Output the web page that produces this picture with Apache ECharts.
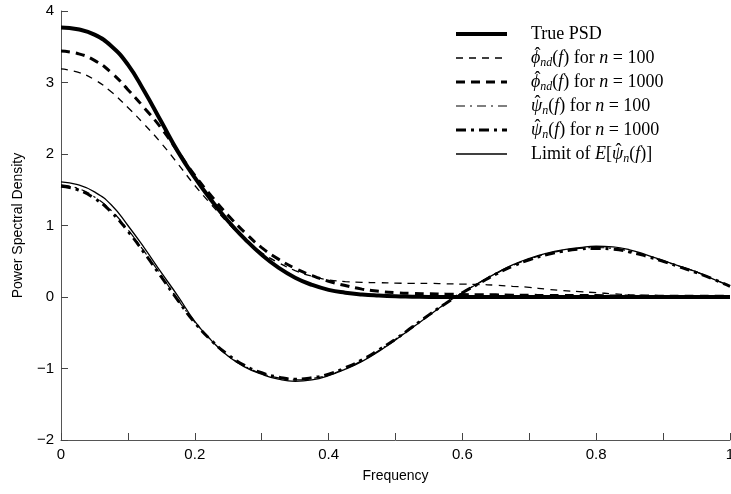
<!DOCTYPE html>
<html><head><meta charset="utf-8">
<script src="https://cdn.jsdelivr.net/npm/echarts@6/dist/echarts.min.js"></script>
<style>html,body{margin:0;padding:0;background:#fff}#c{width:731px;height:494px}</style>
</head><body><div id="c"></div>
<script>
const freq = [0,0.025,0.05,0.075,0.1,0.125,0.15,0.175,0.2,0.225,0.25,0.275,0.3,0.325,0.35,0.375,0.4,0.425,0.45,0.475,0.5,0.525,0.55,0.575,0.6,0.625,0.65,0.675,0.7,0.725,0.75,0.775,0.8,0.825,0.85,0.875,0.9,0.925,0.95,0.975,1.0];
const truePSD = [3.77,3.745,3.67,3.51,3.25,2.87,2.45,2.03,1.67,1.35,1.06,0.81,0.59,0.41,0.27,0.17,0.10,0.06,0.035,0.02,0.01,0.005,0,0,0,0,0,0,0,0,0,0,0,0,0,0,0,0,0,0,0];
const phiNd100 = [3.19,3.145,3.04,2.87,2.65,2.41,2.15,1.86,1.56,1.29,1.03,0.80,0.62,0.48,0.37,0.29,0.24,0.215,0.205,0.20,0.195,0.19,0.19,0.185,0.18,0.175,0.165,0.15,0.135,0.11,0.09,0.075,0.06,0.045,0.03,0.02,0.012,0.007,0.004,0.002,0];
const phiNd1000 = [3.44,3.405,3.31,3.14,2.90,2.64,2.36,2.03,1.70,1.41,1.14,0.90,0.69,0.53,0.40,0.30,0.22,0.16,0.11,0.08,0.06,0.05,0.045,0.04,0.035,0.03,0.03,0.025,0.025,0.02,0.02,0.02,0.02,0.015,0.015,0.015,0.01,0.01,0.01,0.01,0.01];
const psiN100 = [1.57,1.52,1.40,1.21,0.94,0.63,0.30,-0.04,-0.35,-0.61,-0.82,-0.97,-1.07,-1.13,-1.16,-1.14,-1.09,-1.00,-0.89,-0.75,-0.59,-0.42,-0.25,-0.09,0.06,0.20,0.33,0.44,0.53,0.60,0.65,0.68,0.69,0.68,0.64,0.58,0.50,0.43,0.35,0.25,0.16];
const psiN1000 = [1.55,1.50,1.38,1.19,0.92,0.61,0.28,-0.05,-0.36,-0.61,-0.81,-0.96,-1.06,-1.12,-1.15,-1.13,-1.08,-0.99,-0.88,-0.74,-0.59,-0.42,-0.25,-0.09,0.06,0.19,0.32,0.43,0.52,0.59,0.64,0.67,0.68,0.67,0.63,0.57,0.50,0.42,0.34,0.25,0.15];
const limitPsi = [1.61,1.57,1.47,1.29,1.00,0.68,0.34,0.01,-0.34,-0.61,-0.83,-0.98,-1.08,-1.15,-1.18,-1.16,-1.10,-1.01,-0.90,-0.76,-0.60,-0.43,-0.26,-0.09,0.06,0.20,0.33,0.45,0.54,0.61,0.66,0.69,0.71,0.70,0.66,0.59,0.51,0.43,0.35,0.25,0.15];
const seriesNames = ['True PSD','phi100','phi1000','psi100','psi1000','limit'];
const legendLabels = {
  'True PSD': '{t|True PSD}',
  'phi100': '{h|\u2009\u02C6}{m|\u03D5}{s|nd}{t|(}{m|f}{t|) for }{m|n}{t| = 100}',
  'phi1000': '{h|\u2009\u02C6}{m|\u03D5}{s|nd}{t|(}{m|f}{t|) for }{m|n}{t| = 1000}',
  'psi100': '{h|\u2009\u02C6}{m|ψ}{s|n}{t|(}{m|f}{t|) for }{m|n}{t| = 100}',
  'psi1000': '{h|\u2009\u02C6}{m|ψ}{s|n}{t|(}{m|f}{t|) for }{m|n}{t| = 1000}',
  'limit': '{t|Limit of }{m|E}{t|[}{h|\u2009\u02C6}{m|ψ}{s|n}{t|(}{m|f}{t|)]}'
};
const pair = a => freq.map((f, i) => [f, a[i]]);
const serifFont = 'Liberation Serif';
const sansFont = 'Liberation Sans';
const styles = [
  {w: 4, t: 'solid'}, {w: 1.3, t: [7, 6]}, {w: 3, t: [9, 6]},
  {w: 1.2, t: [9, 5, 2, 5]}, {w: 3, t: [10, 5, 3, 5]}, {w: 1.3, t: 'solid'}
];
const chart = echarts.init(document.getElementById('c'), null, {renderer: 'canvas'});
function mkSeries(i, arr, z) {
  return {name: seriesNames[i], type: 'line', data: pair(arr), symbol: 'none', smooth: 0.5, z: z,
    itemStyle: {color: '#000'},
    lineStyle: {color: '#000', width: styles[i].w, type: styles[i].t}, emphasis: {disabled: true}};
}
chart.setOption({
  animation: false,
  backgroundColor: '#fff',
  grid: {left: 61, right: 1, top: 11, bottom: 54, outerBoundsMode: 'none', containLabel: false},
  xAxis: {
    type: 'value', min: 0, max: 1, interval: 0.1,
    name: 'Frequency', nameLocation: 'middle', nameGap: 29,
    nameTextStyle: {fontFamily: sansFont, fontSize: 14, color: '#000'},
    axisLine: {onZero: false, lineStyle: {color: '#555', width: 1}},
    axisTick: {inside: true, length: 7, lineStyle: {color: '#444'}},
    axisLabel: {fontFamily: sansFont, fontSize: 15, color: '#000', margin: 7, hideOverlap: false,
      formatter: v => { const k = Math.round(v * 10); if (k % 2) return ''; return k === 0 ? '0' : (k === 10 ? '1' : (k / 10).toFixed(1)); }},
    splitLine: {show: false}
  },
  yAxis: {
    type: 'value', min: -2, max: 4, interval: 1,
    name: 'Power Spectral Density', nameLocation: 'middle', nameGap: 36,
    nameTextStyle: {fontFamily: sansFont, fontSize: 14, color: '#000'},
    axisLine: {show: true, onZero: false, lineStyle: {color: '#555', width: 1}},
    axisTick: {show: true, inside: true, length: 7, lineStyle: {color: '#444'}},
    axisLabel: {fontFamily: sansFont, fontSize: 15, color: '#000', margin: 7,
      formatter: v => String(v).replace('-', '\u2212')},
    splitLine: {show: false}
  },
  legend: {
    orient: 'vertical', left: 449, top: 17, itemWidth: 51, itemHeight: 14, itemGap: 0,
    selectedMode: false,
    itemStyle: {opacity: 0},
    data: seriesNames.map((n, i) => ({name: n, itemStyle: {opacity: 0},
      lineStyle: {color: '#000', width: styles[i].w, type: styles[i].t, opacity: 1}})),
    formatter: n => legendLabels[n],
    textStyle: {
      fontFamily: serifFont, fontSize: 18, color: '#000', lineHeight: 24, padding: [0, 0, 0, 19],
      rich: {
        t: {fontFamily: serifFont, fontSize: 18, lineHeight: 24, verticalAlign: 'middle'},
        m: {fontFamily: serifFont, fontSize: 18, fontStyle: 'italic', lineHeight: 24, verticalAlign: 'middle'},
        h: {fontFamily: serifFont, fontSize: 18, lineHeight: 24, verticalAlign: 'top', width: 0, align: 'left'},
        s: {fontFamily: serifFont, fontSize: 12, fontStyle: 'italic', lineHeight: 24, verticalAlign: 'bottom', padding: [0, 0, 1, 0]}
      }
    }
  },
  series: [
    mkSeries(0, truePSD, 6),
    mkSeries(1, phiNd100, 2),
    mkSeries(2, phiNd1000, 5),
    mkSeries(3, psiN100, 3),
    mkSeries(4, psiN1000, 4),
    mkSeries(5, limitPsi, 1)
  ]
});
</script></body></html>
